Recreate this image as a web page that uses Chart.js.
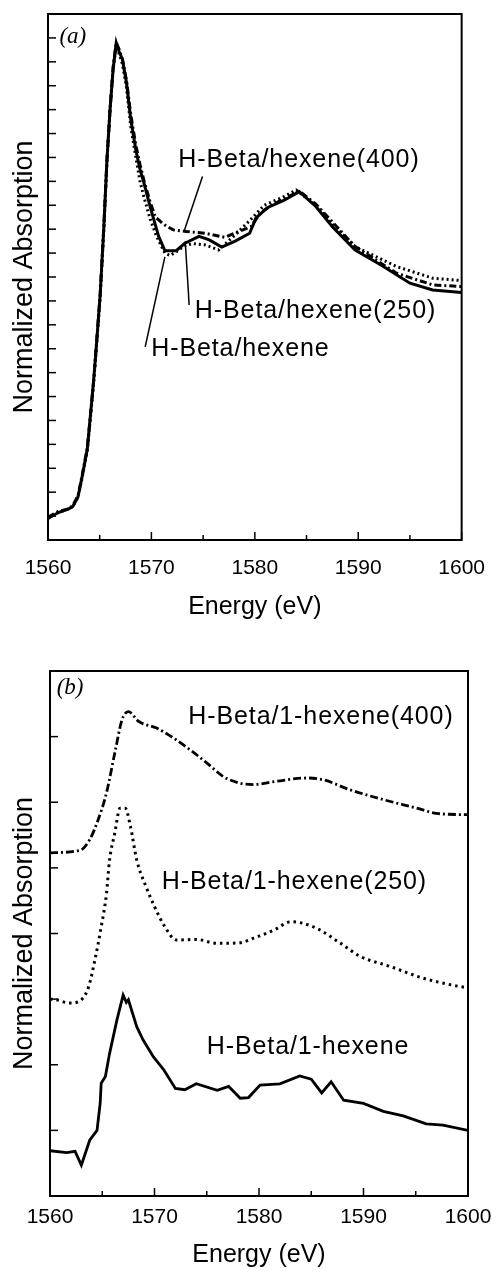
<!DOCTYPE html>
<html>
<head>
<meta charset="utf-8">
<script src="https://cdn.jsdelivr.net/npm/chart.js@4.4.1/dist/chart.umd.min.js"></script>
<style>
  html, body { margin: 0; padding: 0; background: #fff; }
  .panel { position: absolute; left: 0; width: 501px; }
  #wrapA { top: 0; height: 635px; }
  #wrapB { top: 640px; height: 631px; }
</style>
</head>
<body>
<div class="panel" id="wrapA"><canvas id="chartA"></canvas></div>
<div class="panel" id="wrapB"><canvas id="chartB"></canvas></div>
<script>
// x tick labels shared by both panels
const xTickLabels = [1560, 1570, 1580, 1590, 1600];

// panel (a) - H-Beta/hexene
const energyA_solid = [1560, 1561, 1562, 1562.4, 1562.9, 1563.3, 1563.8, 1564.1, 1564.4, 1564.65,
  1565.05, 1565.4, 1565.7, 1566.0, 1566.3, 1566.6, 1566.9, 1567.2, 1567.6, 1568.0,
  1568.5, 1568.9, 1569.3, 1569.9, 1570.7, 1571.3, 1572.4, 1573.2, 1574.6, 1575.6,
  1576.8, 1578.1, 1579.5, 1580.1, 1581.2, 1582.8, 1584.3, 1585.9, 1587.5, 1589.7,
  1592.2, 1595.0, 1597.2, 1600];
const absA_solid = [0.9, 1.15, 1.3, 1.4, 1.8, 2.65, 3.8, 5.2, 6.6, 7.95,
  10.3, 13.1, 15.9, 18.0, 19.7, 20.8, 20.4, 20.1, 19.1, 17.6,
  16.3, 15.5, 14.9, 13.9, 12.7, 12.1, 12.1, 12.4, 12.7, 12.55,
  12.25, 12.5, 12.83, 13.46, 13.9, 14.2, 14.57, 13.95, 13.1, 12.13,
  11.5, 10.74, 10.46, 10.35];

const energyA_400 = [1560, 1561, 1562, 1562.4, 1562.9, 1563.3, 1563.8, 1564.1, 1564.4, 1564.65,
  1565.05, 1565.4, 1565.7, 1566.0, 1566.3, 1566.6, 1566.9, 1567.2, 1567.6, 1568.0,
  1568.5, 1568.9, 1569.3, 1569.9, 1570.4, 1571.2, 1572.1, 1573.4, 1575.2, 1577.1,
  1578.4, 1579.6, 1580.6, 1581.8, 1583.0, 1584.3, 1585.9, 1587.5, 1589.7, 1593.7,
  1597.2, 1600];
const absA_400 = [0.95, 1.2, 1.3, 1.45, 1.85, 2.7, 3.85, 5.2, 6.6, 8.0,
  10.3, 13.1, 15.9, 18.0, 19.8, 20.8, 20.5, 20.1, 19.2, 17.8,
  16.5, 15.7, 15.0, 14.1, 13.5, 13.2, 12.97, 12.9, 12.83, 12.66,
  12.9, 13.1, 13.7, 14.05, 14.3, 14.6, 14.05, 13.3, 12.27, 11.16,
  10.67, 10.6];

const energyA_250 = [1560, 1561, 1562, 1562.4, 1562.9, 1563.3, 1563.8, 1564.1, 1564.4, 1564.65,
  1565.05, 1565.4, 1565.7, 1566.0, 1566.3, 1566.6, 1566.9, 1567.2, 1567.6, 1568.0,
  1568.5, 1568.9, 1569.3, 1569.9, 1570.5, 1571.3, 1571.8, 1572.4, 1573.2, 1574.0,
  1575.2, 1576.5, 1578.1, 1579.6, 1580.9, 1582.8, 1584.0, 1585.9, 1587.5, 1589.7,
  1593.7, 1597.2, 1600];
const absA_250 = [0.9, 1.15, 1.3, 1.4, 1.8, 2.6, 3.75, 5.1, 6.5, 7.9,
  10.2, 13.0, 15.8, 18.0, 19.7, 20.7, 20.3, 19.9, 18.9, 17.3,
  16.0, 15.0, 14.3, 13.4, 12.7, 12.0, 11.9, 12.06, 12.3, 12.4,
  12.34, 12.13, 12.76, 13.4, 14.0, 14.36, 14.64, 14.0, 13.2, 12.27,
  11.44, 10.95, 10.85];

// panel (b) - H-Beta/1-hexene (curves offset vertically)
const energyB_400 = [1560, 1562.9, 1563.8, 1564.6, 1565.4, 1566.2, 1566.9, 1567.5, 1568.5, 1570.2,
  1571.8, 1573.4, 1575.0, 1576.6, 1578.2, 1579.5, 1581.7, 1584.6, 1586.2, 1588.7,
  1591.9, 1595.1, 1597.0, 1600];
const absB_400 = [5.23, 5.27, 5.43, 5.73, 6.14, 6.75, 7.26, 7.38, 7.23, 7.13,
  6.98, 6.8, 6.6, 6.39, 6.29, 6.27, 6.32, 6.37, 6.34, 6.19,
  6.04, 5.91, 5.83, 5.81];

const energyB_250 = [1560, 1560.6, 1561.9, 1563.0, 1563.7, 1564.3, 1564.9, 1565.4, 1565.7, 1566.2,
  1566.7, 1567.2, 1567.7, 1568.3, 1569.2, 1570.0, 1571.0, 1572.1, 1574.0, 1576.0,
  1578.2, 1579.5, 1581.4, 1583.1, 1585.5, 1587.8, 1589.7, 1592.5, 1595.7, 1598.3,
  1600];
const absB_250 = [3.0, 2.99, 2.94, 2.99, 3.19, 3.6, 4.1, 4.6, 5.12, 5.53,
  5.91, 5.91, 5.63, 5.12, 4.71, 4.41, 4.1, 3.9, 3.91, 3.85,
  3.86, 3.93, 4.05, 4.18, 4.08, 3.85, 3.65, 3.5, 3.32, 3.22,
  3.17];

const energyB_solid = [1560, 1561.6, 1562.4, 1563.0, 1563.8, 1564.5, 1564.8, 1564.9, 1565.3, 1565.7,
  1566.4, 1567.0, 1567.3, 1567.5, 1568.3, 1568.9, 1569.9, 1570.9, 1572.0, 1572.9,
  1574.0, 1576.0, 1577.1, 1578.2, 1579.0, 1580.1, 1582.0, 1583.9, 1585.0, 1586.0,
  1586.9, 1588.1, 1590.0, 1591.9, 1593.8, 1596.0, 1597.6, 1600];
const absB_solid = [0.69, 0.66, 0.68, 0.47, 0.85, 1.0, 1.41, 1.72, 1.82, 2.17,
  2.68, 3.06, 2.95, 2.99, 2.58, 2.38, 2.12, 1.92, 1.64, 1.62,
  1.71, 1.61, 1.67, 1.49, 1.5, 1.69, 1.71, 1.83, 1.78, 1.57,
  1.74, 1.46, 1.41, 1.29, 1.22, 1.1, 1.08, 1.0];

const FONT = '"Liberation Sans", Arial, Helvetica, sans-serif';
Chart.defaults.font.family = FONT;
Chart.defaults.color = '#000';

function pts(xs, ys) {
  return xs.map((x, i) => ({ x: x, y: ys[i] }));
}

function line(xs, ys, dash, width, smooth) {
  return {
    data: pts(xs, ys),
    borderColor: '#000',
    borderWidth: width,
    borderDash: dash,
    pointRadius: 0,
    fill: false,
    tension: 0,
    cubicInterpolationMode: smooth ? 'monotone' : 'default'
  };
}

// frame, inward tick marks, leader lines and curve labels
const decor = {
  id: 'decor',
  afterDraw(chart, args, opts) {
    const ctx = chart.ctx, sx = chart.scales.x, sy = chart.scales.y, a = chart.chartArea;
    ctx.save();
    ctx.strokeStyle = '#000';
    ctx.lineWidth = 2;
    ctx.strokeRect(a.left, a.top, a.right - a.left, a.bottom - a.top);

    ctx.lineWidth = 1.5;
    sx.ticks.forEach(t => {
      const px = sx.getPixelForValue(t.value);
      const len = t.value % 10 === 0 ? 8 : 5;
      ctx.beginPath(); ctx.moveTo(px, a.bottom); ctx.lineTo(px, a.bottom - len); ctx.stroke();
    });
    sy.ticks.forEach(t => {
      const py = sy.getPixelForValue(t.value);
      ctx.beginPath(); ctx.moveTo(a.left, py); ctx.lineTo(a.left + 8, py); ctx.stroke();
    });

    (opts.leaders || []).forEach(l => {
      ctx.beginPath();
      ctx.moveTo(sx.getPixelForValue(l[0]), sy.getPixelForValue(l[1]));
      ctx.lineTo(sx.getPixelForValue(l[2]), sy.getPixelForValue(l[3]));
      ctx.stroke();
    });

    ctx.fillStyle = '#000';
    ctx.textBaseline = 'middle';
    ctx.textAlign = 'left';
    ctx.font = '25px ' + FONT;
    ctx.letterSpacing = '0.9px';
    (opts.labels || []).forEach(l => {
      ctx.fillText(l.text, sx.getPixelForValue(l.x), sy.getPixelForValue(l.y));
    });
    ctx.letterSpacing = '0px';
    ctx.font = 'italic 23px "Liberation Serif", "Times New Roman", serif';
    ctx.fillText(opts.tag.text, sx.getPixelForValue(opts.tag.x), sy.getPixelForValue(opts.tag.y));
    ctx.restore();
  }
};

function makeChart(id, datasets, yMax, pad, leftW, axisH, tickPad, titlePadBottom, decorOpts) {
  return new Chart(document.getElementById(id), {
    type: 'line',
    data: { datasets: datasets },
    plugins: [decor],
    options: {
      responsive: true,
      maintainAspectRatio: false,
      animation: false,
      layout: { padding: pad },
      plugins: {
        legend: { display: false },
        tooltip: { enabled: false },
        decor: decorOpts
      },
      scales: {
        x: {
          type: 'linear',
          min: 1560,
          max: 1600,
          grid: { display: false, drawTicks: false },
          border: { display: false },
          ticks: {
            stepSize: 5,
            autoSkip: false,
            maxRotation: 0,
            padding: tickPad,
            color: '#000',
            font: { size: 21 },
            callback: (v) => xTickLabels.includes(v) ? String(v) : ''
          },
          title: {
            display: true,
            text: 'Energy (eV)',
            color: '#000',
            font: { size: 25 },
            padding: { top: 0, bottom: titlePadBottom }
          },
          afterFit: (s) => { s.height = axisH; }
        },
        y: {
          type: 'linear',
          min: 0,
          max: yMax,
          grid: { display: false, drawTicks: false },
          border: { display: false },
          ticks: { display: false, stepSize: 1 },
          title: {
            display: true,
            text: 'Normalized Absorption',
            color: '#000',
            font: { size: 27 },
            padding: { top: 8, bottom: 0 }
          },
          afterFit: (s) => { s.width = leftW; }
        }
      }
    }
  });
}

document.addEventListener('DOMContentLoaded', function() {
  makeChart('chartA', [
    line(energyA_solid, absA_solid, [], 3, false),
    line(energyA_400, absA_400, [7, 3, 2, 3], 3, false),
    line(energyA_250, absA_250, [2, 3], 3, false)
  ], 22, { left: 0, right: 28, top: 14, bottom: 0 }, 48, 95, 16, 13, {
    leaders: [
      [1574.94, 15.2, 1573.2, 12.97],
      [1573.27, 12.5, 1573.65, 9.83],
      [1571.3, 11.84, 1569.4, 8.08]
    ],
    labels: [
      { text: 'H-Beta/hexene(400)', x: 1572.6, y: 15.9 },
      { text: 'H-Beta/hexene(250)', x: 1574.2, y: 9.58 },
      { text: 'H-Beta/hexene', x: 1569.98, y: 8.0 }
    ],
    tag: { text: '(a)', x: 1561.1, y: 21.06 }
  });

  makeChart('chartB', [
    line(energyB_400, absB_400, [8, 3, 2, 3], 2.8, true),
    line(energyB_250, absB_250, [2.5, 4], 3, true),
    line(energyB_solid, absB_solid, [], 2.8, false)
  ], 8, { left: 0, right: 33, top: 31, bottom: 0 }, 50, 75, 9, 1, {
    leaders: [],
    labels: [
      { text: 'H-Beta/1-hexene(400)', x: 1573.23, y: 7.29 },
      { text: 'H-Beta/1-hexene(250)', x: 1570.69, y: 4.79 },
      { text: 'H-Beta/1-hexene', x: 1575.0, y: 2.27 }
    ],
    tag: { text: '(b)', x: 1560.64, y: 7.74 }
  });
});
</script>
</body>
</html>
